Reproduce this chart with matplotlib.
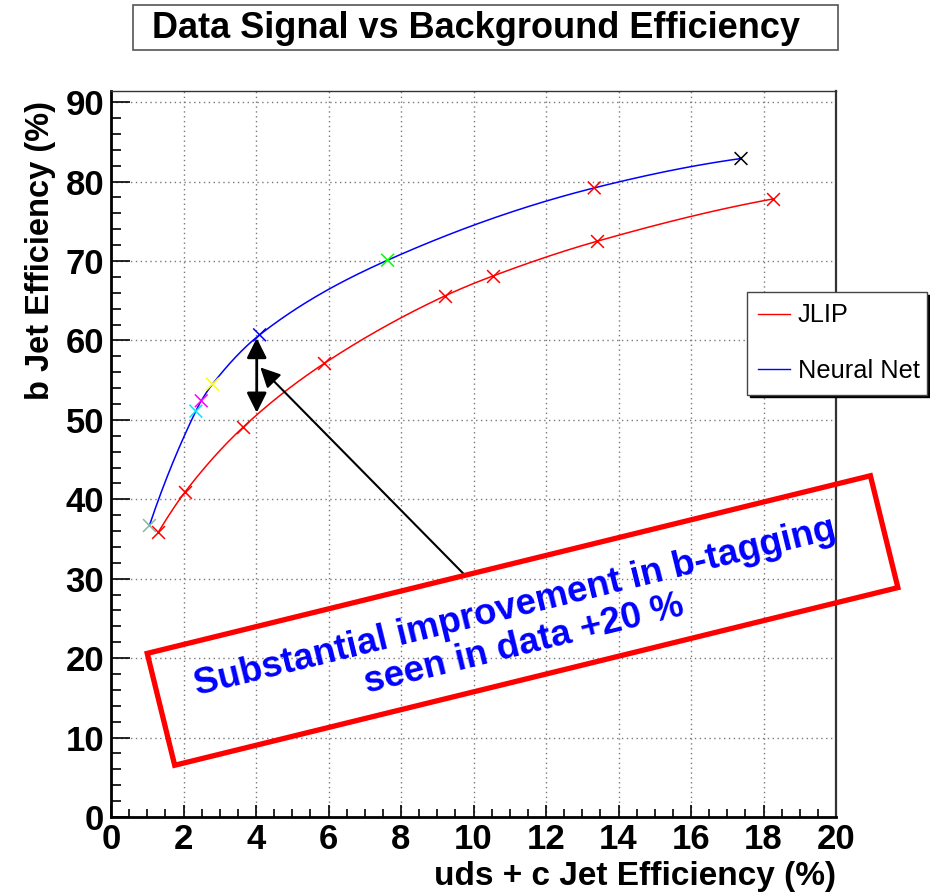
import numpy as np
import matplotlib
matplotlib.use("Agg")
import matplotlib.pyplot as plt
from matplotlib.patches import Rectangle
from matplotlib.ticker import MultipleLocator

plt.rcParams['font.family'] = ['Liberation Sans', 'DejaVu Sans']

# working points: background (uds+c) efficiency vs b efficiency, in %
jlip_bkg = [1.31, 2.04, 3.65, 5.88, 9.21, 10.53, 13.42, 18.25]
jlip_sig = [35.9, 40.9, 49.1, 57.1, 65.6, 68.1, 72.5, 77.8]

nn_bkg = [1.06, 2.34, 2.49, 2.80, 4.10, 7.63, 13.33, 17.38]
nn_sig = [36.7, 51.1, 52.4, 54.5, 60.7, 70.1, 79.2, 82.9]
nn_marker_colors = ['#86b8a2', '#00e5ff', '#ff00ff', '#ffff00',
                    '#0000ff', '#00ff00', '#ff0000', '#000000']

title = "Data Signal vs Background Efficiency"
xlabel = "uds + c Jet Efficiency (%)"
ylabel = "b Jet Efficiency (%)"
note = "Substantial improvement in b-tagging\nseen in data +20 %"


def pchip(x, y, n=400):
    # monotone cubic curve through the points
    x = np.asarray(x, float)
    y = np.asarray(y, float)
    h = np.diff(x)
    d = np.diff(y) / h
    m = np.zeros_like(y)
    for k in range(1, len(x) - 1):
        if d[k - 1] * d[k] > 0:
            w1 = 2 * h[k] + h[k - 1]
            w2 = h[k] + 2 * h[k - 1]
            m[k] = (w1 + w2) / (w1 / d[k - 1] + w2 / d[k])
    m[0] = ((2 * h[0] + h[1]) * d[0] - h[0] * d[1]) / (h[0] + h[1])
    if m[0] * d[0] <= 0:
        m[0] = 0
    m[-1] = ((2 * h[-1] + h[-2]) * d[-1] - h[-1] * d[-2]) / (h[-1] + h[-2])
    if m[-1] * d[-1] <= 0:
        m[-1] = 0
    xs = np.linspace(x[0], x[-1], n)
    k = np.clip(np.searchsorted(x, xs) - 1, 0, len(h) - 1)
    t = (xs - x[k]) / h[k]
    h00 = 2 * t**3 - 3 * t**2 + 1
    h10 = t**3 - 2 * t**2 + t
    h01 = -2 * t**3 + 3 * t**2
    h11 = t**3 - t**2
    ys = h00 * y[k] + h10 * h[k] * m[k] + h01 * y[k + 1] + h11 * h[k] * m[k + 1]
    return xs, ys


W, H = 930, 892
fig = plt.figure(figsize=(W / 100, H / 100), dpi=100)
ax = fig.add_axes([111 / W, 1 - 817 / H, 725 / W, 726 / H])

ax.set_xlim(0, 20)
ax.set_ylim(0, 91.4)
ax.xaxis.set_major_locator(MultipleLocator(2))
ax.xaxis.set_minor_locator(MultipleLocator(0.5))
ax.yaxis.set_major_locator(MultipleLocator(10))
ax.yaxis.set_minor_locator(MultipleLocator(2))
ax.grid(True, which='major', color='#7a7a7a', linestyle=(0, (1, 2.5)), lw=1.0)
ax.set_axisbelow(True)

ax.tick_params(axis='both', which='both', direction='in', top=False, right=False,
               width=1.2, labelsize=25)
ax.tick_params(axis='y', which='major', length=14, pad=5)
ax.tick_params(axis='y', which='minor', length=7)
ax.tick_params(axis='x', which='major', length=9, pad=4)
ax.tick_params(axis='x', which='minor', length=6)
for lab in ax.get_xticklabels() + ax.get_yticklabels():
    lab.set_fontweight('bold')

ax.spines['left'].set_linewidth(2)
ax.spines['bottom'].set_linewidth(2)
ax.spines['top'].set_linewidth(1)
ax.spines['top'].set_color('#333333')
ax.spines['right'].set_linewidth(1.6)
ax.spines['right'].set_color('#333333')

# curves
xs, ys = pchip(jlip_bkg, jlip_sig)
ax.plot(xs, ys, color='#ff0000', lw=1.1, label='JLIP')
xs, ys = pchip(nn_bkg, nn_sig)
ax.plot(xs, ys, color='#0000ff', lw=1.1, label='Neural Net')

ax.scatter(jlip_bkg, jlip_sig, marker='x', s=85, color='#ff0000', lw=1.1, zorder=3)
ax.scatter(nn_bkg, nn_sig, marker='x', s=85, c=nn_marker_colors, lw=1.1, zorder=3)

ax.set_xlabel(xlabel, fontsize=24, fontweight='bold', loc='right', labelpad=4)
ax.set_ylabel(ylabel, fontsize=23.5, fontweight='bold', loc='top', labelpad=7)
ax.yaxis.label.set_y(1.0 - 10 / 726)

leg = ax.legend(loc='upper left', mode='expand',
                bbox_to_anchor=(747 / W, 1 - 400 / H, 180 / W, 108 / H),
                bbox_transform=fig.transFigure, borderaxespad=0, fontsize=18.3,
                frameon=True, fancybox=False, edgecolor='#444444',
                shadow={'color': 'black', 'alpha': 1}, handlelength=1.25,
                handletextpad=0.3, labelspacing=1.25, borderpad=0.45)
leg.get_frame().set_linewidth(1)
for line in leg.get_lines():
    line.set_linewidth(1)

# arrows: gap between the two curves and the pointer from the note
ax.annotate('', xy=(4.02, 60.3), xytext=(4.02, 50.9),
            arrowprops=dict(arrowstyle='<|-|>', color='black', lw=2,
                            mutation_scale=30, shrinkA=0, shrinkB=0))
ax.annotate('', xy=(4.12, 56.6), xytext=(9.73, 30.6),
            arrowprops=dict(arrowstyle='-|>', color='black', lw=1.5,
                            mutation_scale=30, shrinkA=0, shrinkB=0))

# overlay in pixel units for the title box and the note box
ov = fig.add_axes([0, 0, 1, 1], zorder=5)
ov.set_xlim(0, W)
ov.set_ylim(0, H)
ov.axis('off')
ov.patch.set_alpha(0)

ov.add_patch(Rectangle((133, H - 50), 705, 45, facecolor='white',
                       edgecolor='#555555', lw=1.2))
ov.text(476, H - 28, title, ha='center', va='center', fontsize=26,
        fontweight='bold')

ov.add_patch(Rectangle((522.5 - 372.3, H - 620.5 - 57.6), 744.7, 115.2,
                       angle=13.8, rotation_point='center', fill=False,
                       edgecolor='#ff0000', lw=3.8))
ov.text(520, H - 626, note, ha='center', va='center', rotation=13.8,
        rotation_mode='anchor', multialignment='center', linespacing=1.1,
        fontsize=26.5, fontweight='bold', color='#0000ff')

fig.savefig('out.png', dpi=100)
